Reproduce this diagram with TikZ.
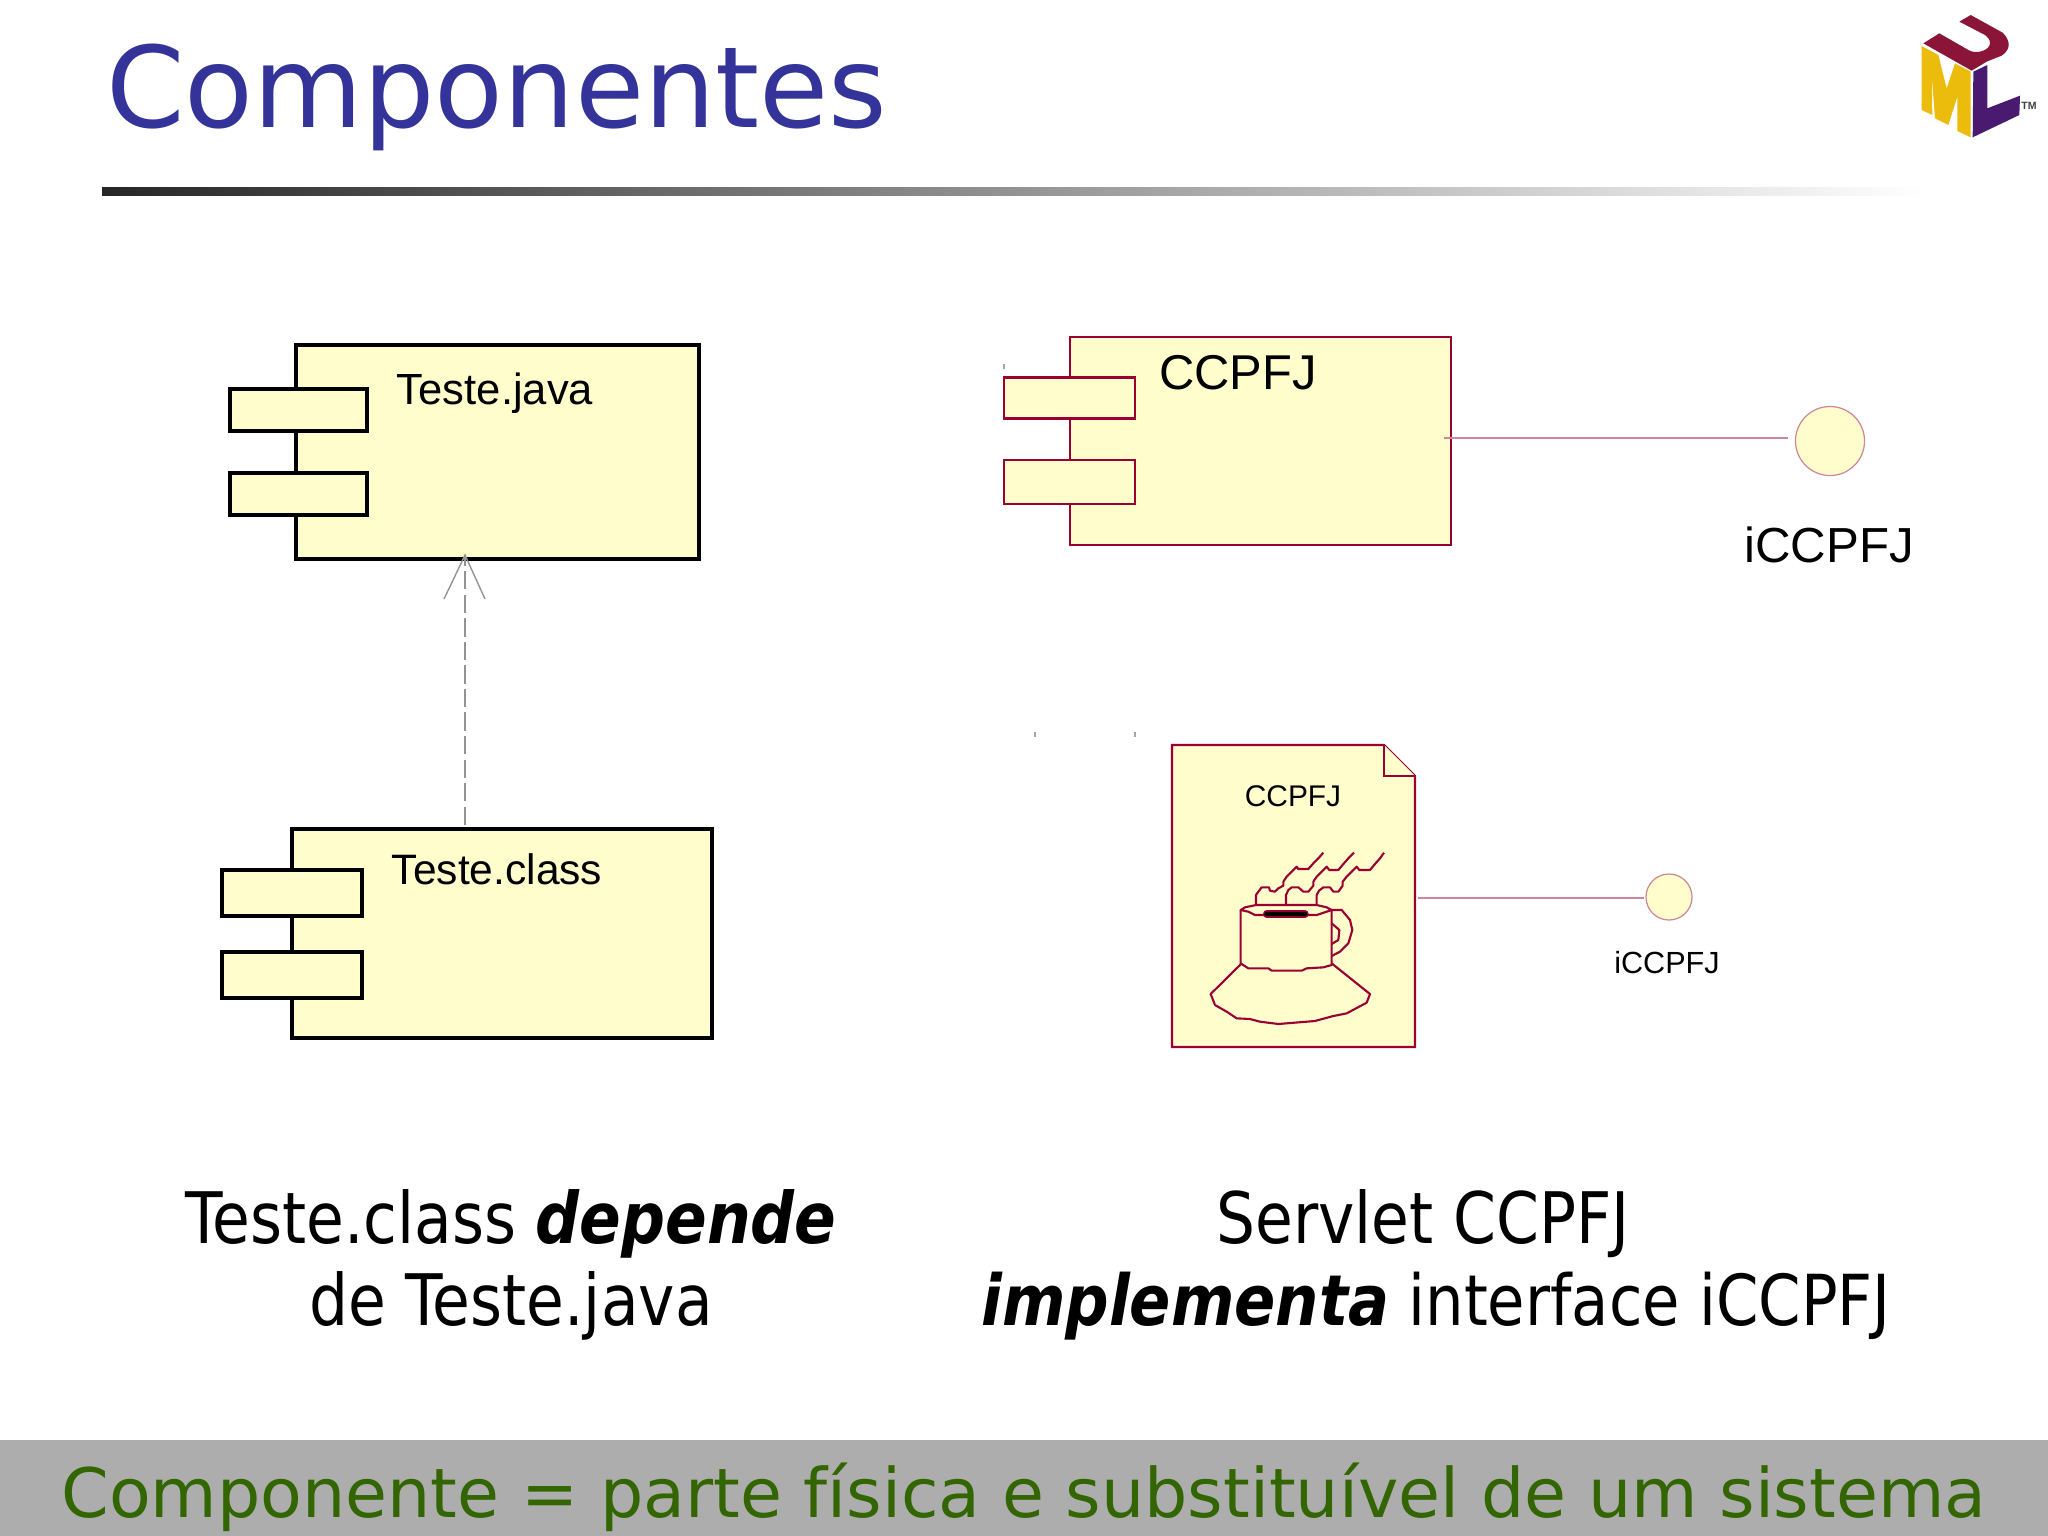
\documentclass[tikz,border=0pt]{standalone}
\usepackage{fontspec}
\setmainfont{Liberation Sans}
\newfontfamily\titlefont{DejaVu Sans}
\newfontfamily\capfont[FakeStretch=0.865]{DejaVu Sans}
\usetikzlibrary{calc}
\definecolor{slidetitle}{HTML}{333399}
\definecolor{slidegreen}{HTML}{336600}
\definecolor{slidegray}{HTML}{ADADAD}
\definecolor{boxfill}{HTML}{FFFDCC}
\definecolor{boxred}{HTML}{990033}
\definecolor{ifacered}{HTML}{CC8899}
\definecolor{umlred}{HTML}{8A1538}
\definecolor{umlyellow}{HTML}{EBBC0C}
\definecolor{umlpurple}{HTML}{4A1A70}

\begin{document}
\begin{tikzpicture}[x=0.01cm,y=-0.01cm]

	\tikzset{black box/.style={draw=black,fill=boxfill,line width=1.2pt,inner sep=0pt}}
	\tikzset{red box/.style={draw=boxred,fill=boxfill,line width=0.7pt,inner sep=0pt}}
	\tikzset{iface/.style={circle,draw=ifacered,fill=boxfill,line width=0.35pt,inner sep=0pt}}
	\tikzset{iface line/.style={draw=ifacered,line width=0.4pt}}
	\tikzset{cup line/.style={draw=boxred,line width=0.6pt,line join=round}}
	\tikzset{caption/.style={font=\capfont\fontsize{20.2}{23.3}\selectfont,align=center,text=black}}

	\useasboundingbox (0,0) rectangle (2048,1536);

	% header
	\node[inner sep=0pt,text=slidetitle,font=\titlefont\fontsize{32}{36}\selectfont] (title) at (497,97) {Componentes};
	\shade[left color=black!85,right color=white] (102,187) rectangle (1925,195);

	% logo
	\begin{scope}[shift={(1880,0)},x=0.01cm/3,y=-0.01cm/3]
		\fill[umlred] (130,130) -- (178,100) -- (265,150) .. controls (290,165) and (330,150) .. (330,130) .. controls (330,118) and (322,110) .. (315,105) -- (238,65) -- (272,45) -- (368,98) .. controls (395,125) and (390,150) .. (365,167) -- (320,185) -- (275,212) -- cycle;
		\fill[umlyellow] (125,138) -- (175,165) -- (200,265) -- (225,190) -- (272,215) -- (272,412) -- (232,393) -- (232,290) -- (205,375) -- (165,355) -- (155,225) -- (157,345) -- (125,330) -- cycle;
		\fill[umlpurple] (280,215) -- (322,195) -- (322,325) -- (420,287) -- (418,345) -- (278,412) -- cycle;
		\node[inner sep=0pt,font=\bfseries\fontsize{3}{4}\selectfont,text=black!75] (tm) at (447,319) {TM};
	\end{scope}

	% Teste.java / Teste.class
	\node[black box,minimum width=4.03cm,minimum height=2.14cm] (java) at (497.5,452) {};
	\node[black box,minimum width=1.37cm,minimum height=0.42cm] (java1) at (298.5,410) {};
	\node[black box,minimum width=1.37cm,minimum height=0.42cm] (java2) at (298.5,494) {};
	\node[font=\fontsize{12.4}{14}\selectfont] (javalabel) at (495,393) {Teste.java};

	\node[black box,minimum width=4.20cm,minimum height=2.09cm] (class) at (502,933.5) {};
	\node[black box,minimum width=1.40cm,minimum height=0.46cm] (class1) at (292,893) {};
	\node[black box,minimum width=1.40cm,minimum height=0.46cm] (class2) at (292,975) {};
	\node[font=\fontsize{12.1}{14}\selectfont] (classlabel) at (497,869) {Teste.class};

	\coordinate (dep from) at (465,825);
	\coordinate (dep to) at (465,555);
	\coordinate (barb l) at (444,599);
	\coordinate (barb r) at (485,599);
	\draw[gray!85,line width=0.4pt,dash pattern=on 5.2pt off 1.5pt] (dep from) -- (dep to);
	\draw[gray!85,line width=0.4pt] (barb l) -- (dep to) -- (barb r);

	% CCPFJ component
	\node[red box,minimum width=3.81cm,minimum height=2.08cm] (comp) at (1260.5,441) {};
	\node[red box,minimum width=1.31cm,minimum height=0.41cm] (comp1) at (1069.5,398) {};
	\node[red box,minimum width=1.31cm,minimum height=0.44cm] (comp2) at (1069.5,482) {};
	\node[font=\fontsize{13.9}{16}\selectfont] (complabel) at (1238,373) {CCPFJ};

	\node[iface,minimum size=0.69cm] (icomp) at (1830,441) {};
	\node[font=\fontsize{14}{16}\selectfont] (icomplabel) at (1829,545) {iCCPFJ};
	\draw[iface line,shorten <=-0.08cm,shorten >=0.07cm] (comp.east |- 0,438) coordinate (comp out) -- (icomp.west |- comp out);

	% servlet page
	\coordinate (page out) at (1418,898);
	\draw[red box] (1172,745) -- (1384,745) -- (1415,776) -- (1415,1047) -- (1172,1047) -- cycle;
	\draw[red box] (1384,745) -- (1384,776) -- (1415,776);
	\node[font=\fontsize{8.5}{10}\selectfont] (pagelabel) at (1293,796) {CCPFJ};

	\begin{scope}[shift={(1120,720)},x=0.01cm/3,y=-0.01cm/3]
		\draw[cup line] (362,733) -- (272,822) -- (285,855) -- (320,875) -- (350,895) -- (390,897) -- (420,905) -- (475,912) -- (585,903) -- (640,888) -- (680,880) -- (740,848) -- (750,822) -- (635,730);
		\draw[cup line] (362,570) -- (362,730) -- (385,745) -- (445,745) -- (455,752) -- (545,752) -- (560,745) -- (610,742) -- (635,735) -- (635,570);
		\draw[cup line] (635,570) -- (665,570) -- (690,600) -- (697,630) -- (685,670) -- (660,695) -- (635,708);
		\draw[cup line] (635,610) -- (658,630) -- (655,660) -- (635,672);
		\draw[cup line] (362,570) -- (375,562) -- (408,555) -- (590,555) -- (620,562) -- (635,570) -- (620,575) -- (590,585) -- (405,585) -- (385,575) -- cycle;
		\draw[boxred,line width=2.1pt,line cap=round] (440,582) -- (555,582);
		\draw[black,line width=1.3pt,line cap=round] (440,582) -- (555,582);
		\draw[cup line] (408,555) -- (408,525) -- (415,515) -- (425,502) -- (447,502) -- (450,512) -- (465,515) -- (475,505) -- (490,497) -- (490,485) -- (500,470) -- (530,440) -- (535,447) -- (565,447) -- (580,430) -- (595,415) -- (610,398);
		\draw[cup line] (498,555) -- (498,525) -- (505,510) -- (515,502) -- (535,502) -- (550,515) -- (565,515) -- (580,497) -- (580,485) -- (590,470) -- (620,440) -- (628,450) -- (655,450) -- (670,432) -- (685,415) -- (702,398);
		\draw[cup line] (590,555) -- (590,525) -- (597,512) -- (610,502) -- (630,502) -- (640,515) -- (655,515) -- (668,497) -- (668,485) -- (680,470) -- (710,440) -- (718,450) -- (750,450) -- (765,432) -- (780,415) -- (792,398);
	\end{scope}

	\node[iface,minimum size=0.46cm] (ipage) at (1669,897) {};
	\node[font=\fontsize{8.7}{10}\selectfont] (ipagelabel) at (1667,963) {iCCPFJ};
	\draw[iface line,shorten >=0.01cm] (page out) -- (ipage.west |- page out);

	% stray marks
	\foreach \i/\j in {1004/364,1035/732,1135/732}
		\fill[gray!70] (\i-1,\j) rectangle (\i+1,\j+5);

	% captions
	\node[caption] (capleft) at (511,1265) {Teste.class {\bfseries\itshape depende}\\de Teste.java};
	\node[caption,anchor=base] (capright1) at (1423,1243) {Servlet CCPFJ};
	\node[caption,anchor=base,font=\capfont\fontsize{20}{23.3}\selectfont] (capright2) at (1436,1325) {{\bfseries\itshape implementa} interface iCCPFJ};

	% footer
	\fill[slidegray] (0,1440) rectangle (2048,1536);
	\node[inner sep=0pt,text=slidegreen,font=\titlefont\fontsize{19.4}{24}\selectfont] (footer) at (1024,1497) {Componente = parte física e substituível de um sistema};

\end{tikzpicture}
\end{document}
